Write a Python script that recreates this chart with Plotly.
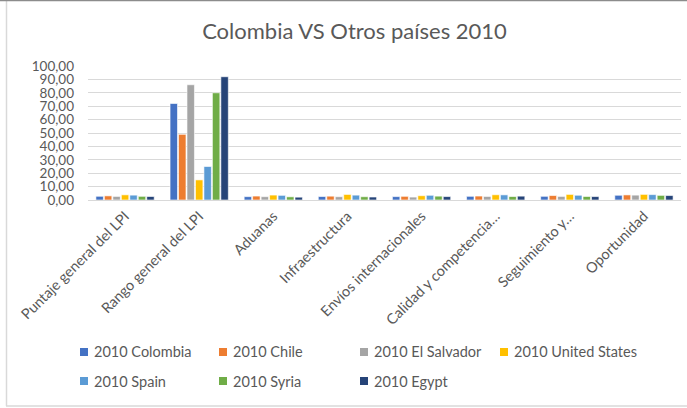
import plotly.graph_objects as go

# LPI 2010 indicators
categories = [
    "Puntaje general del LPI",
    "Rango general del LPI",
    "Aduanas",
    "Infraestructura",
    "Envíos internacionales",
    "Calidad y competencia…",
    "Seguimiento y…",
    "Oportunidad",
]

series_names = [
    "2010 Colombia",
    "2010 Chile",
    "2010 El Salvador",
    "2010 United States",
    "2010 Spain",
    "2010 Syria",
    "2010 Egypt",
]

colombia = [2.77, 72, 2.50, 2.59, 2.54, 2.75, 2.75, 3.52]
chile = [3.09, 49, 2.93, 2.86, 2.74, 2.94, 3.33, 3.80]
el_salvador = [2.67, 86, 2.48, 2.44, 2.18, 2.66, 2.68, 3.63]
united_states = [3.86, 15, 3.68, 4.15, 3.21, 3.92, 4.17, 4.19]
spain = [3.63, 25, 3.47, 3.63, 3.51, 3.83, 3.54, 4.02]
syria = [2.74, 80, 2.37, 2.45, 2.87, 2.59, 2.63, 3.45]
egypt = [2.61, 92, 2.11, 2.22, 2.56, 2.87, 2.56, 3.31]

series_values = [colombia, chile, el_salvador, united_states, spain, syria, egypt]
colors = ["#4472C4", "#ED7D31", "#A5A5A5", "#FFC000", "#5B9BD5", "#70AD47", "#264478"]

W, H = 687, 408
L, R, T, B = 88, 6, 66, 208  # plot area: x 88..681, y 66..200
PW, PH = W - L - R, H - T - B

FONT = "Lato"
TXT = "#595959"


def px(x):
    return (x - L) / PW


def py(y):
    return (H - B - y) / PH


fig = go.Figure()
for name, vals, col in zip(series_names, series_values, colors):
    fig.add_trace(go.Bar(
        x=categories, y=vals, name=name,
        marker=dict(color=col, line=dict(color="white", width=0.6)),
        showlegend=False,
    ))

shapes = [
    # chart frame
    dict(type="line", xref="paper", yref="paper", x0=px(6.5), x1=px(6.5), y0=py(1), y1=py(406),
         line=dict(color="#D9D9D9", width=1.5)),
    dict(type="line", xref="paper", yref="paper", x0=px(6), x1=px(687), y0=py(406), y1=py(406),
         line=dict(color="#D9D9D9", width=1.5)),
    dict(type="line", xref="paper", yref="paper", x0=px(0), x1=px(687), y0=py(0.5), y1=py(0.5),
         line=dict(color="#8C8C8C", width=1.5)),
]
annotations = []

# legend laid out in Excel-style columns
leg_x = [80, 219, 360, 500]
leg_y = [352, 381]
for i, (name, col) in enumerate(zip(series_names, colors)):
    cx = leg_x[i % 4]
    cy = leg_y[i // 4]
    shapes.append(dict(type="rect", xref="paper", yref="paper",
                       x0=px(cx), x1=px(cx + 8), y0=py(cy - 4), y1=py(cy + 4),
                       fillcolor=col, line=dict(width=0)))
    annotations.append(dict(text=name, xref="paper", yref="paper", x=px(cx + 12), y=py(cy),
                            xanchor="left", yanchor="middle", showarrow=False,
                            font=dict(family=FONT, size=14.5, color=TXT)))

fig.update_layout(
    width=W, height=H,
    margin=dict(l=L, r=R, t=T, b=B, autoexpand=False),
    paper_bgcolor="white", plot_bgcolor="white",
    separators=",.",
    barmode="group", bargap=0.2, bargroupgap=0.12,
    title=dict(text="Colombia VS Otros países 2010", x=354.5 / W, xanchor="center",
               y=1 - 31 / H, yanchor="middle", xref="container", yref="container",
               font=dict(family=FONT, size=22, color=TXT)),
    xaxis=dict(tickangle=-45, tickfont=dict(family=FONT, size=14.5, color=TXT),
               showline=False, showgrid=False, ticks="", ticklabelstandoff=4),
    yaxis=dict(range=[0, 100], dtick=10, tickformat=".2f",
               tickfont=dict(family=FONT, size=13.5, color=TXT),
               gridcolor="#D9D9D9", gridwidth=1, zeroline=True, zerolinecolor="#D9D9D9",
               zerolinewidth=1, showline=False, ticks="", ticklabelstandoff=13),
    shapes=shapes,
    annotations=annotations,
    showlegend=False,
)

fig.write_html("out.html")
